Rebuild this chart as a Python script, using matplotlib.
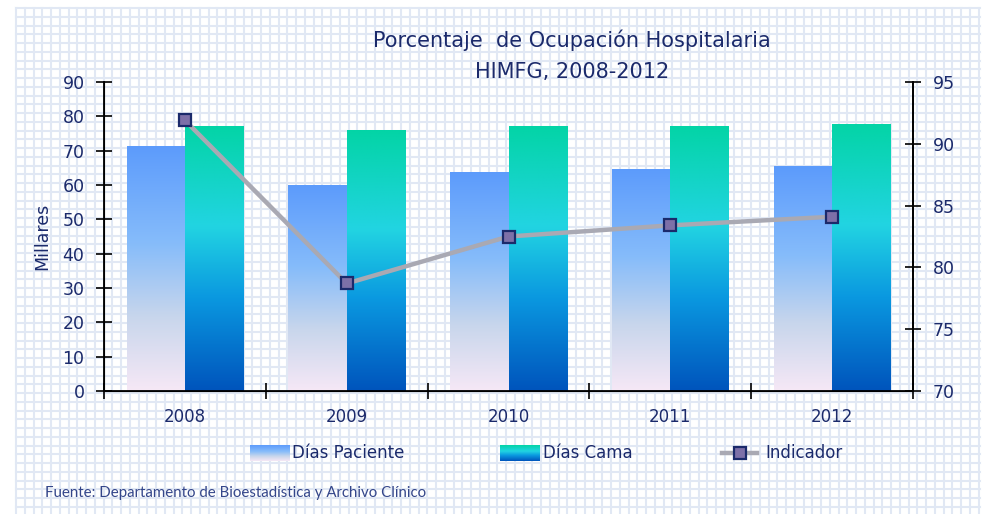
import numpy as np
import matplotlib
matplotlib.use("Agg")
import matplotlib.pyplot as plt
from matplotlib.colors import LinearSegmentedColormap

years = ["2008", "2009", "2010", "2011", "2012"]
dias_paciente = [71.4, 60.0, 63.8, 64.7, 65.5]
dias_cama = [77.2, 76.0, 77.2, 77.2, 77.8]
indicador = [91.9, 78.7, 82.5, 83.4, 84.1]

navy = "#1b2a6b"

blue_cmap = LinearSegmentedColormap.from_list(
    "dp", [(0, "#f6e8f6"), (0.3, "#c8d6ec"), (0.6, "#86bcfa"), (1, "#5c9bfc")])
green_cmap = LinearSegmentedColormap.from_list(
    "dc", [(0, "#0054bc"), (0.35, "#0a98e0"), (0.62, "#22d4e2"), (1, "#03d4a6")])
grad = np.linspace(0, 1, 256).reshape(-1, 1)

W, H = 983, 514
fig = plt.figure(figsize=(W / 100, H / 100), dpi=100)

# background grid pattern
bg = fig.add_axes([0, 0, 1, 1], zorder=-1)
for x in np.arange(16, 981, 8.75):
    bg.plot([x, x], [8, H], color="#e1e8f4", lw=1.5, zorder=0)
for y in np.arange(8, H + 1, 8.75):
    bg.plot([16, 980], [y, y], color="#e1e8f4", lw=1.5, zorder=0)

ax = fig.add_axes([104 / W, 1 - 391 / H, (913 - 104) / W, (391 - 82) / H])
ax.set_facecolor("none")
x = np.arange(len(years))
w = 0.36
b1 = ax.bar(x - w / 2, dias_paciente, w, color="none")
b2 = ax.bar(x + w / 2, dias_cama, w, color="none")
for bars, cmap in [(b1, blue_cmap), (b2, green_cmap)]:
    for r in bars:
        x0, y0 = r.get_x(), r.get_y()
        im = ax.imshow(grad, cmap=cmap, origin="lower", aspect="auto",
                       extent=[x0, x0 + r.get_width(), y0, y0 + r.get_height()],
                       zorder=2)
        im.set_clip_path(r)

ax.set_xlim(-0.5, len(years) - 0.5)
ax.set_ylim(0, 90)
ax.set_yticks(range(0, 91, 10))
ax.set_xticks(x)
ax.set_xticklabels(years)
ax.set_xticks(np.arange(-0.5, len(years), 1), minor=True)
ax.tick_params(axis="x", which="major", length=0, pad=12, labelsize=12, labelcolor=navy)
ax.tick_params(axis="x", which="minor", direction="inout", length=12, width=1.2)
ax.tick_params(axis="y", direction="inout", length=12, width=1.2, labelsize=12.5,
               labelcolor=navy, pad=8)
ax.spines["top"].set_visible(False)
for s in ["left", "bottom", "right"]:
    ax.spines[s].set_linewidth(1.3)
ax.set_ylabel("Millares", color=navy, fontsize=12.5, labelpad=8)

ax2 = ax.twinx()
ax2.set_ylim(70, 95)
ax2.set_yticks(range(70, 96, 5))
ax2.tick_params(axis="y", direction="inout", length=12, width=1.2, labelsize=12.5,
                labelcolor=navy, pad=8)
ax2.spines["top"].set_visible(False)
ax2.spines["right"].set_linewidth(1.3)
ax2.plot(x, indicador, color="#a9a9b3", lw=3.2, zorder=3, solid_capstyle="butt")
ax2.plot(x, indicador, ls="none", marker="s", ms=9, mec=navy, mew=1.6,
         mfc="#7d70a8", zorder=4)

fig.text(572 / W, 1 - 40 / H, "Porcentaje  de Ocupación Hospitalaria", ha="center",
         va="center", fontsize=15, color=navy)
fig.text(572 / W, 1 - 72 / H, "HIMFG, 2008-2012", ha="center", va="center",
         fontsize=15, color=navy)

# legend
ly = 453
for (x0, cmap) in [(250, blue_cmap), (500, green_cmap)]:
    bg.imshow(grad, cmap=cmap, origin="lower", aspect="auto",
              extent=[x0, x0 + 40, ly + 8, ly - 8], zorder=2)
bg.set_xlim(0, W)
bg.set_ylim(H, 0)
bg.axis("off")
bg.text(292, ly, "Días Paciente", va="center", fontsize=12, color=navy)
bg.text(543, ly, "Días Cama", va="center", fontsize=12, color=navy)
bg.plot([722, 757], [ly, ly], color="#a9a9b3", lw=3.2, zorder=2)
bg.plot([740], [ly], ls="none", marker="s", ms=9, mec=navy, mew=1.6,
        mfc="#7d70a8", zorder=3)
bg.text(765, ly, "Indicador", va="center", fontsize=12, color=navy)

fig.text(45 / W, 1 - 493 / H,
         "Fuente: Departamento de Bioestadística y Archivo Clínico",
         va="center", fontsize=10.8, color="#34468a", family="Lato")

fig.savefig("out.png", dpi=100)
